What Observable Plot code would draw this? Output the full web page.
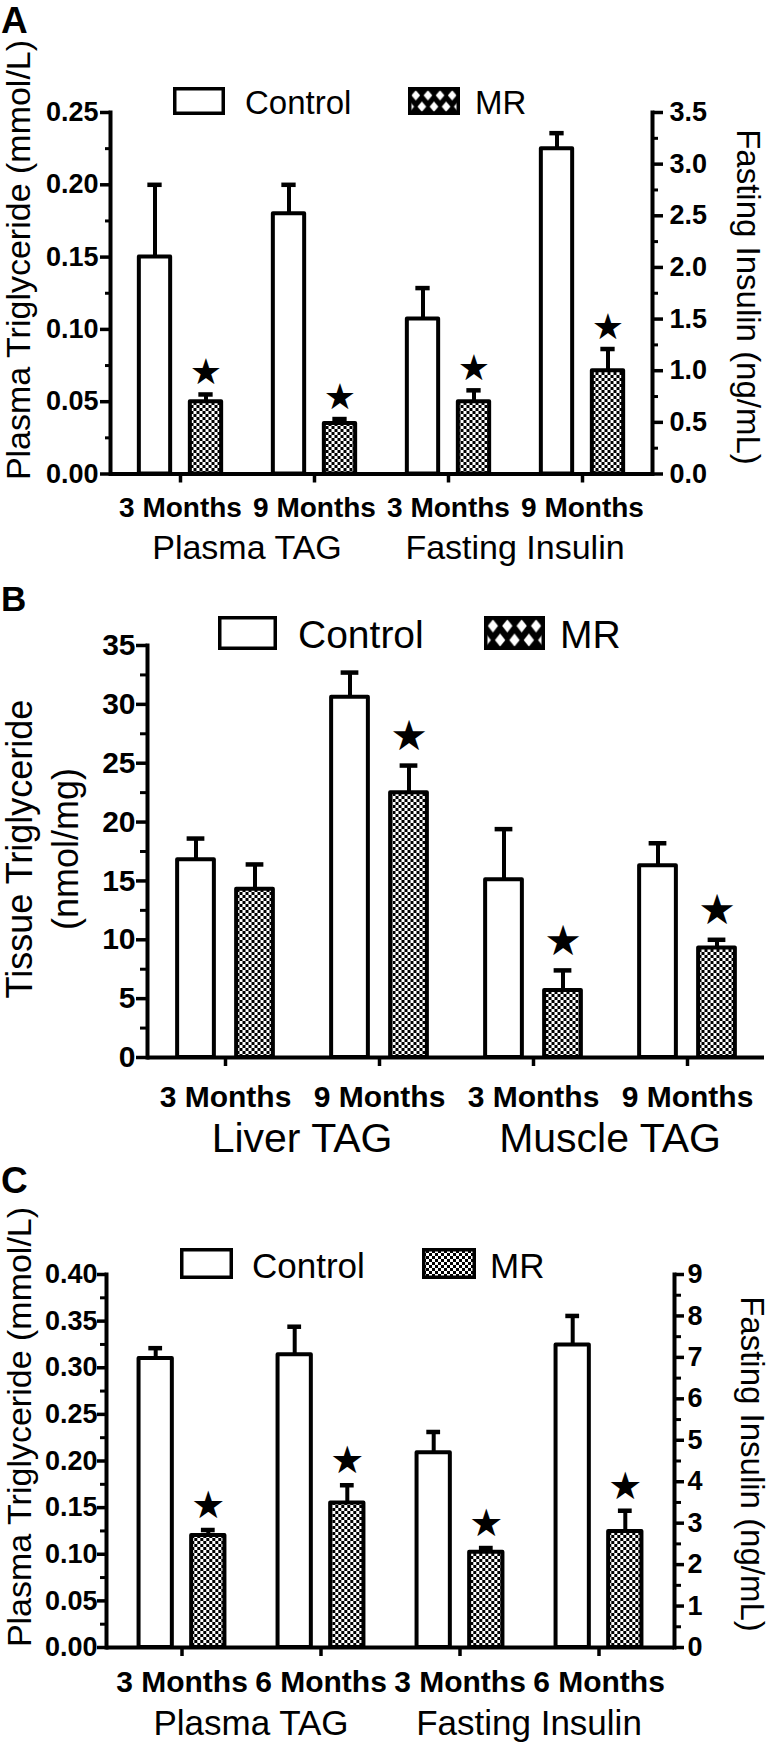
<!DOCTYPE html>
<html>
<head>
<meta charset="utf-8">
<script src="https://cdn.jsdelivr.net/npm/d3@7"></script>
<script src="https://cdn.jsdelivr.net/npm/@observablehq/plot@0.6"></script>
<style>
html, body { margin: 0; padding: 0; background: #fff; }
#chart svg.plotpanel { display: block; }
</style>
</head>
<body>
<svg width="0" height="0" style="position:absolute">
  <defs>
    <pattern id="checker" patternUnits="userSpaceOnUse" width="6" height="6">
      <rect width="6" height="6" fill="#fff"></rect>
      <rect width="3" height="3" fill="#000"></rect>
      <rect x="3" y="3" width="3" height="3" fill="#000"></rect>
    </pattern>
  </defs>
</svg>
<div id="chart"></div>
<script>
// ---------------- DATA ----------------
const seriesNames = ["Control", "MR"];

// Panel A
const aGroups = ["Plasma TAG", "Plasma TAG", "Fasting Insulin", "Fasting Insulin"];
const aTimes = ["3 Months", "9 Months", "3 Months", "9 Months"];
const aAxis = ["left", "left", "right", "right"];
const aControl = [0.15, 0.18, 1.5, 3.15];
const aControlSem = [0.05, 0.02, 0.3, 0.15];
const aMR = [0.05, 0.035, 0.7, 1.0];
const aMRSem = [0.005, 0.003, 0.11, 0.21];
const aMRStar = [true, true, true, true];
const aLeftTicks = [0, 0.05, 0.10, 0.15, 0.20, 0.25];
const aLeftMinor = [0.025, 0.075, 0.125, 0.175, 0.225];
const aRightTicks = [0, 0.5, 1.0, 1.5, 2.0, 2.5, 3.0, 3.5];
const aRightMinor = [0.25, 0.75, 1.25, 1.75, 2.25, 2.75, 3.25];

// Panel B
const bGroups = ["Liver TAG", "Liver TAG", "Muscle TAG", "Muscle TAG"];
const bTimes = ["3 Months", "9 Months", "3 Months", "9 Months"];
const bAxis = ["left", "left", "left", "left"];
const bControl = [16.8, 30.6, 15.1, 16.3];
const bControlSem = [1.8, 2.1, 4.3, 1.9];
const bMR = [14.3, 22.5, 5.7, 9.3];
const bMRSem = [2.1, 2.3, 1.7, 0.7];
const bMRStar = [false, true, true, true];
const bLeftTicks = [0, 5, 10, 15, 20, 25, 30, 35];
const bLeftMinor = [2.5, 7.5, 12.5, 17.5, 22.5, 27.5, 32.5];

// Panel C
const cGroups = ["Plasma TAG", "Plasma TAG", "Fasting Insulin", "Fasting Insulin"];
const cTimes = ["3 Months", "6 Months", "3 Months", "6 Months"];
const cAxis = ["left", "left", "right", "right"];
const cControl = [0.31, 0.314, 4.7, 7.3];
const cControlSem = [0.011, 0.03, 0.5, 0.7];
const cMR = [0.12, 0.155, 2.3, 2.8];
const cMRSem = [0.006, 0.019, 0.1, 0.5];
const cMRStar = [true, true, true, true];
const cLeftTicks = [0, 0.05, 0.10, 0.15, 0.20, 0.25, 0.30, 0.35, 0.40];
const cLeftMinor = [0.025, 0.075, 0.125, 0.175, 0.225, 0.275, 0.325, 0.375];
const cRightTicks = [0, 1, 2, 3, 4, 5, 6, 7, 8, 9];
const cRightMinor = [0.5, 1.5, 2.5, 3.5, 4.5, 5.5, 6.5, 7.5, 8.5];

// ---------------- HELPERS ----------------
const FONT = "'Liberation Sans', Arial, Helvetica, sans-serif";

function addText(svg, x, y, s, o = {}) {
  let tr = `translate(${x},${y})`;
  if (o.rotate) tr += ` rotate(${o.rotate})`;
  d3.select(svg).append("text")
    .attr("transform", tr)
    .attr("font-family", FONT)
    .attr("font-size", o.size)
    .attr("font-weight", o.weight || "normal")
    .attr("text-anchor", o.anchor || "start")
    .attr("fill", "#000")
    .text(s);
}

function addSwatch(svg, box, fill, sw = 3.5) {
  const [x, y, w, h] = box;
  d3.select(svg).append("rect")
    .attr("x", x + sw / 2).attr("y", y + sw / 2)
    .attr("width", w - sw).attr("height", h - sw)
    .attr("fill", fill).attr("stroke", "#000").attr("stroke-width", sw);
}

function addLattice(svg, id, box, sw = 3.5) {
  const [x, y, w, h] = box;
  const ix = x + sw / 2, iy = y + sw / 2, iw = w - sw, ih = h - sw;
  const pw = iw / 4, ph = ih;
  const defs = d3.select(svg).append("defs");
  const p = defs.append("pattern").attr("id", id)
    .attr("patternUnits", "userSpaceOnUse")
    .attr("x", ix).attr("y", iy).attr("width", pw).attr("height", ph);
  p.append("rect").attr("width", pw).attr("height", ph).attr("fill", "#000");
  const hw = pw * 0.36, hh = ph * 0.21;
  const dia = (cx, cy) => `M${cx - hw},${cy}L${cx},${cy - hh}L${cx + hw},${cy}L${cx},${cy + hh}Z`;
  p.append("path").attr("fill", "#fff")
    .attr("d", dia(pw / 2, ph * 0.27) + dia(0, ph * 0.73) + dia(pw, ph * 0.73));
  addSwatch(svg, box, `url(#${id})`, sw);
}

function panel(c) {
  const n = c.groups.length;
  const keys = c.groups.map((g, i) => g + " | " + c.times[i]);
  const k = c.rightMax ? c.leftMax / c.rightMax : 1;
  const conv = (v, i) => (c.axis[i] === "right" ? v * k : v);
  const ctl = keys.map((key, i) => ({key, series: seriesNames[0], value: conv(c.control[i], i), top: conv(c.control[i] + c.controlSem[i], i)}));
  const mrRows = keys.map((key, i) => ({key, series: seriesNames[1], value: conv(c.mr[i], i), top: conv(c.mr[i] + c.mrSem[i], i), star: c.mrStar[i]}));

  const innerW = 774 - c.mL - c.mR;
  const bw = innerW / (n + 2 * c.po);
  const barInset = (bw - c.barW) / 2;
  const capInset = (bw - c.capW) / 2;

  const marks = [];
  for (const [data, dx] of [[ctl, -c.off], [mrRows, c.off]]) {
    marks.push(Plot.ruleX(data, {x: "key", y1: "value", y2: "top", dx, strokeWidth: 4}));
    marks.push(Plot.tickY(data, {x: "key", y: "top", dx, insetLeft: capInset, insetRight: capInset, strokeWidth: 4.5}));
  }
  marks.push(Plot.barY(ctl, {x: "key", y: "value", dx: -c.off, insetLeft: barInset, insetRight: barInset,
    fill: "white", stroke: "black", strokeWidth: 4, strokeLinejoin: "round"}));
  marks.push(Plot.barY(mrRows, {x: "key", y: "value", dx: c.off, insetLeft: barInset, insetRight: barInset,
    fill: "url(#checker)", stroke: "black", strokeWidth: 4, strokeLinejoin: "round"}));
  marks.push(Plot.text(mrRows.filter(d => d.star), {x: "key", y: "top", dx: c.off, dy: c.starDy, text: () => "\u2605",
    fontSize: c.starSize, fontFamily: "DejaVu Sans", lineAnchor: "middle", fill: "black"}));

  // axes
  marks.push(Plot.axisY({ticks: c.leftMinor, anchor: "left", tickSize: c.minorSize, strokeWidth: 3, tickFormat: () => "", label: null}));
  marks.push(Plot.axisY({ticks: c.leftTicks, anchor: "left", tickSize: c.lTick, tickPadding: c.lPad, strokeWidth: 3.5,
    tickFormat: d3.format(c.leftFmt), fontSize: c.yFont, fontWeight: "bold", label: null}));
  if (c.rightMax) {
    marks.push(Plot.axisY({ticks: c.rightMinor.map(v => v * k), anchor: "right", tickSize: c.minorSize, strokeWidth: 3, tickFormat: () => "", label: null}));
    marks.push(Plot.axisY({ticks: c.rightTicks.map(v => v * k), anchor: "right", tickSize: c.rTick, tickPadding: c.rPad, strokeWidth: 3.5,
      tickFormat: v => d3.format(c.rightFmt)(v / k), fontSize: c.yFont, fontWeight: "bold", label: null}));
    marks.push(Plot.frame({anchor: "right", strokeWidth: 4}));
  }
  marks.push(Plot.axisX({tickSize: 9, tickPadding: c.xPad, strokeWidth: 3.5, tickFormat: key => key.split(" | ")[1],
    fontSize: c.xFont, fontWeight: "bold", label: null}));
  marks.push(Plot.frame({anchor: "left", strokeWidth: 4}));
  marks.push(Plot.ruleY([0], {strokeWidth: 4}));

  const svg = Plot.plot({
    width: 774,
    height: c.height,
    marginTop: c.mT, marginBottom: c.mB, marginLeft: c.mL, marginRight: c.mR,
    x: {domain: keys, paddingInner: 0, paddingOuter: c.po, align: 0.5, label: null},
    y: {domain: [0, c.leftMax], label: null},
    style: {fontFamily: FONT, color: "black", background: "white", overflow: "visible"},
    marks
  });
  svg.classList.add("plotpanel");

  // group labels centered under their pairs of categories
  const xs = svg.scale("x");
  const groupNames = Array.from(new Set(c.groups));
  for (const g of groupNames) {
    const idx = c.groups.map((d, i) => (d === g ? i : -1)).filter(i => i >= 0);
    const cx = d3.mean(idx, i => xs.apply(keys[i]) + xs.bandwidth / 2);
    addText(svg, cx, c.groupBase, g, {size: c.groupFont, anchor: "middle"});
  }

  // panel letter
  addText(svg, 1, c.letterBase, c.letter, {size: c.letterSize, weight: "bold"});

  // titles
  c.leftTitles.forEach(t => addText(svg, t.x, t.y, t.text, {size: t.size, anchor: "middle", rotate: -90}));
  if (c.rightTitle) addText(svg, c.rightTitle.x, c.rightTitle.y, c.rightTitle.text, {size: c.rightTitle.size, anchor: "middle", rotate: 90});

  // legend
  addSwatch(svg, c.legCtlBox, "white");
  addText(svg, c.legCtlText, c.legBase, seriesNames[0], {size: c.legFont});
  if (c.lattice) addLattice(svg, "lattice" + c.letter, c.legMRBox);
  else addSwatch(svg, c.legMRBox, "url(#checker)");
  addText(svg, c.legMRText, c.legBase, seriesNames[1], {size: c.legFont});

  document.getElementById("chart").appendChild(svg);
}

// ---------------- PANELS ----------------
panel({
  letter: "A", letterBase: 33, letterSize: 37,
  height: 580, mT: 112, mB: 106.5, mL: 110, mR: 122, po: 0.012,
  groups: aGroups, times: aTimes, axis: aAxis,
  control: aControl, controlSem: aControlSem, mr: aMR, mrSem: aMRSem, mrStar: aMRStar,
  leftMax: 0.25, leftTicks: aLeftTicks, leftMinor: aLeftMinor, leftFmt: ".2f",
  rightMax: 3.5, rightTicks: aRightTicks, rightMinor: aRightMinor, rightFmt: ".1f",
  barW: 32, off: 25.5, capW: 15, starSize: 36, starDy: -22,
  minorSize: 5, lTick: 10, lPad: 2, rTick: 10, rPad: 7, yFont: 27,
  xPad: 14, xFont: 28, groupBase: 559, groupFont: 34,
  leftTitles: [{x: 30, y: 260, text: "Plasma Triglyceride (mmol/L)", size: 34}],
  rightTitle: {x: 737, y: 297, text: "Fasting Insulin (ng/mL)", size: 33},
  legCtlBox: [173, 87, 52, 28], legCtlText: 245, legMRBox: [408, 87, 52, 28], legMRText: 475, legBase: 114, legFont: 33, lattice: true
});

panel({
  letter: "B", letterBase: 31, letterSize: 35,
  height: 580, mT: 65, mB: 103, mL: 147, mR: 10, po: 0,
  groups: bGroups, times: bTimes, axis: bAxis,
  control: bControl, controlSem: bControlSem, mr: bMR, mrSem: bMRSem, mrStar: bMRStar,
  leftMax: 35, leftTicks: bLeftTicks, leftMinor: bLeftMinor, leftFmt: "d",
  rightMax: null,
  barW: 37, off: 29.5, capW: 18, starSize: 42, starDy: -29,
  minorSize: 7, lTick: 11, lPad: 1, yFont: 30,
  xPad: 19, xFont: 30, groupBase: 572, groupFont: 41,
  leftTitles: [
    {x: 32, y: 269, text: "Tissue Triglyceride", size: 36},
    {x: 78, y: 269, text: "(nmol/mg)", size: 36}
  ],
  rightTitle: null,
  legCtlBox: [218, 36, 59, 34], legCtlText: 298, legMRBox: [484, 36, 61, 34], legMRText: 560, legBase: 68, legFont: 39, lattice: true
});

panel({
  letter: "C", letterBase: 33, letterSize: 37,
  height: 585, mT: 114, mB: 98, mL: 106, mR: 100, po: 0.04,
  groups: cGroups, times: cTimes, axis: cAxis,
  control: cControl, controlSem: cControlSem, mr: cMR, mrSem: cMRSem, mrStar: cMRStar,
  leftMax: 0.40, leftTicks: cLeftTicks, leftMinor: cLeftMinor, leftFmt: ".2f",
  rightMax: 9, rightTicks: cRightTicks, rightMinor: cRightMinor, rightFmt: "d",
  barW: 33.5, off: 26.3, capW: 14, starSize: 38, starDy: -24,
  minorSize: 6, lTick: 9, lPad: 0, rTick: 9, rPad: 4, yFont: 27,
  xPad: 14, xFont: 30, groupBase: 575, groupFont: 35,
  leftTitles: [{x: 31, y: 267, text: "Plasma Triglyceride (mmol/L)", size: 34}],
  rightTitle: {x: 741, y: 304, text: "Fasting Insulin (ng/mL)", size: 33},
  legCtlBox: [180, 88, 53, 31], legCtlText: 252, legMRBox: [422, 88, 54, 31], legMRText: 490, legBase: 118, legFont: 35, lattice: false
});
</script>
</body>
</html>
